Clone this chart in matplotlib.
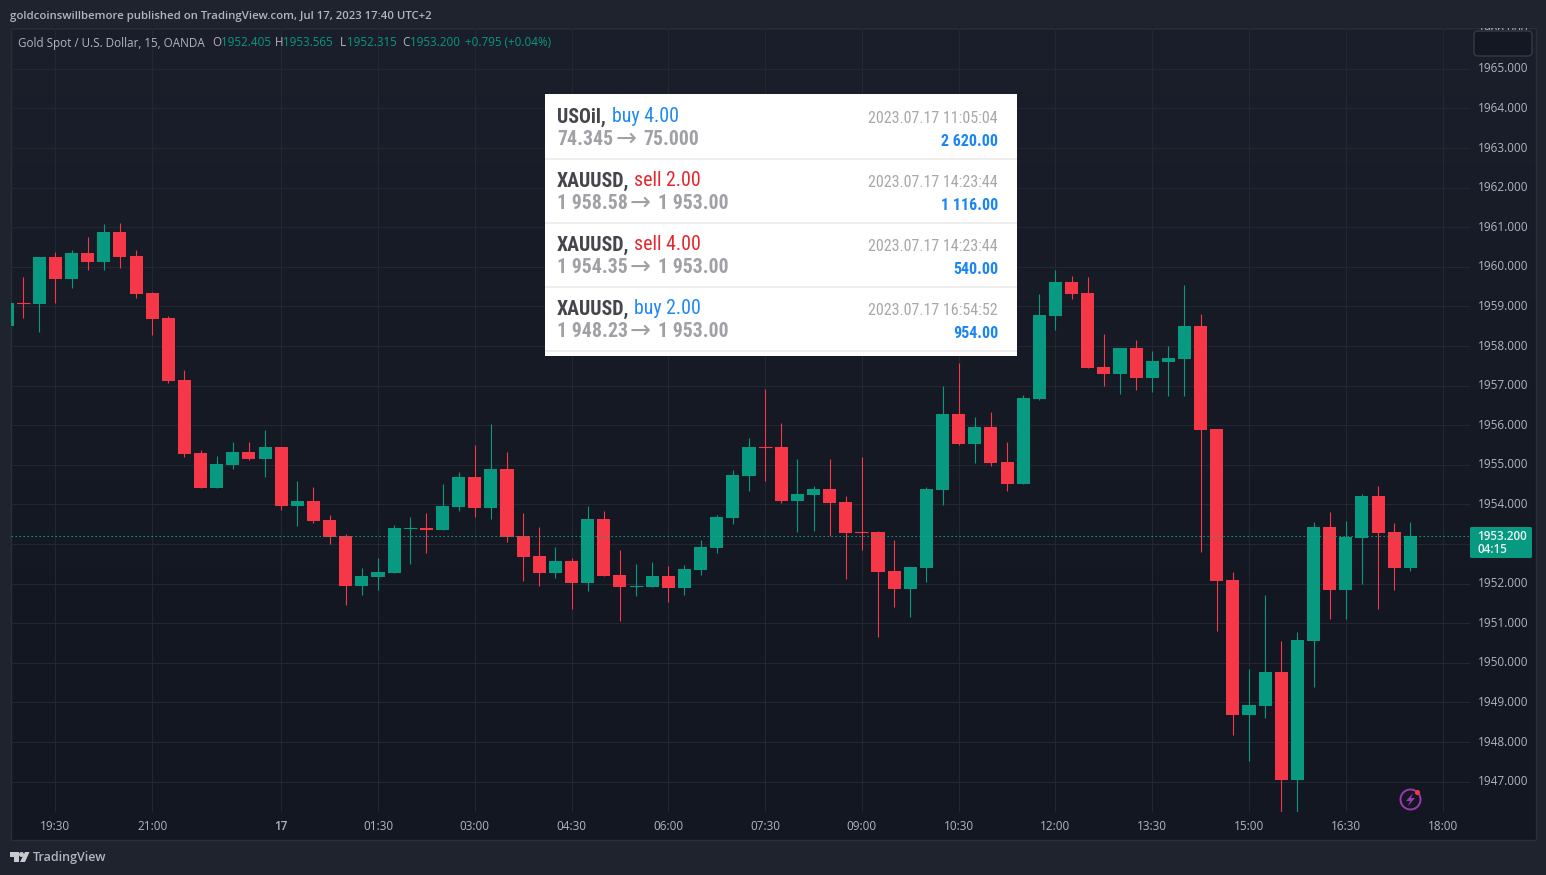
"""Gold spot 15 min candles (TradingView dark snapshot) with a trade result panel on top."""

import matplotlib

matplotlib.use("Agg")
import matplotlib.pyplot as plt
import numpy as np
from matplotlib.colors import LinearSegmentedColormap
from matplotlib.patches import Circle, FancyBboxPatch, Polygon, Rectangle
from matplotlib.transforms import Bbox

opens = [1958.51, 1959.09, 1959.06, 1960.25, 1959.70, 1960.35, 1960.12, 1960.88, 1960.28, 1959.34,
         1958.71, 1957.14, 1955.30, 1954.42, 1955.00, 1955.33, 1955.15, 1955.45, 1953.96, 1954.09,
         1953.61, 1953.21, 1951.94, 1952.17, 1952.27, 1953.39, 1953.41, 1953.36, 1953.94, 1954.69,
         1953.91, 1954.90, 1953.20, 1952.70, 1952.27, 1952.57, 1952.02, 1953.63, 1952.22, 1951.92,
         1951.92, 1952.19, 1951.89, 1952.35, 1952.90, 1953.66, 1954.72, 1955.45, 1955.45, 1954.09,
         1954.24, 1954.39, 1954.06, 1953.31, 1953.31, 1952.32, 1951.87, 1952.40, 1954.37, 1956.29,
         1955.53, 1955.96, 1955.07, 1954.52, 1956.66, 1958.76, 1959.62, 1959.34, 1957.47, 1957.30,
         1957.95, 1957.19, 1957.59, 1957.67, 1958.50, 1955.91, 1952.09, 1948.68, 1948.91, 1949.77,
         1947.04, 1950.55, 1953.43, 1951.84, 1953.16, 1954.21, 1953.30, 1952.405]
highs = [1959.30, 1959.75, 1960.25, 1960.38, 1960.43, 1960.76, 1961.08, 1961.11, 1960.43, 1959.37,
         1958.76, 1957.40, 1955.38, 1955.23, 1955.58, 1955.58, 1955.88, 1955.45, 1954.59, 1954.44,
         1953.74, 1953.26, 1952.40, 1952.65, 1953.48, 1953.69, 1953.79, 1954.52, 1954.82, 1955.50,
         1956.03, 1955.33, 1953.79, 1953.43, 1952.93, 1952.65, 1953.96, 1953.84, 1952.85, 1952.50,
         1952.55, 1952.45, 1952.47, 1953.10, 1953.74, 1954.87, 1955.68, 1956.92, 1956.06, 1955.15,
         1954.47, 1955.15, 1954.21, 1955.20, 1953.33, 1953.10, 1952.42, 1954.44, 1956.99, 1957.57,
         1956.21, 1956.34, 1955.58, 1956.77, 1959.32, 1959.92, 1959.77, 1959.75, 1958.31, 1957.95,
         1958.15, 1957.88, 1958.00, 1959.54, 1958.81, 1955.91, 1952.29, 1949.85, 1951.71, 1950.55,
         1950.78, 1953.55, 1953.81, 1953.58, 1954.26, 1954.46, 1953.54, 1953.565]
lows = [1958.30, 1958.71, 1958.36, 1959.09, 1959.47, 1959.92, 1959.92, 1959.97, 1959.22, 1958.28,
        1957.07, 1955.20, 1954.42, 1954.42, 1954.90, 1955.12, 1954.70, 1953.86, 1953.46, 1953.53,
        1953.00, 1951.46, 1951.72, 1951.84, 1952.27, 1952.50, 1952.78, 1953.36, 1953.84, 1953.68,
        1953.63, 1953.05, 1952.07, 1951.94, 1952.14, 1951.36, 1951.82, 1952.19, 1951.06, 1951.69,
        1951.92, 1951.54, 1951.72, 1952.22, 1952.78, 1953.51, 1954.34, 1954.59, 1954.04, 1953.31,
        1953.33, 1953.20, 1952.12, 1952.85, 1950.65, 1951.41, 1951.16, 1952.04, 1953.99, 1955.50,
        1955.05, 1954.97, 1954.34, 1954.52, 1956.64, 1958.41, 1959.19, 1957.45, 1956.99, 1956.79,
        1956.89, 1956.84, 1956.74, 1956.74, 1952.80, 1950.80, 1948.18, 1947.52, 1948.61, 1946.20,
        1946.20, 1949.39, 1951.11, 1951.11, 1951.99, 1951.36, 1951.84, 1952.315]
closes = [1959.09, 1959.07, 1960.25, 1959.70, 1960.35, 1960.12, 1960.88, 1960.25, 1959.32, 1958.69,
          1957.12, 1955.28, 1954.42, 1955.02, 1955.33, 1955.15, 1955.45, 1953.96, 1954.09, 1953.58,
          1953.18, 1951.94, 1952.20, 1952.30, 1953.41, 1953.41, 1953.36, 1953.96, 1954.69, 1953.91,
          1954.90, 1953.18, 1952.67, 1952.27, 1952.57, 1952.02, 1953.63, 1952.19, 1951.92, 1951.94,
          1952.19, 1951.89, 1952.37, 1952.93, 1953.68, 1954.74, 1955.45, 1955.43, 1954.09, 1954.27,
          1954.39, 1954.04, 1953.28, 1953.29, 1952.30, 1951.87, 1952.42, 1954.39, 1956.29, 1955.53,
          1955.96, 1955.05, 1954.52, 1956.69, 1958.79, 1959.62, 1959.32, 1957.45, 1957.30, 1957.95,
          1957.19, 1957.62, 1957.70, 1958.50, 1955.88, 1952.07, 1948.68, 1948.94, 1949.77, 1947.04,
          1950.58, 1953.43, 1951.84, 1953.18, 1954.21, 1953.28, 1952.40, 1953.20]

last_price = 1953.2
price_ticks = list(range(1947, 1967))
time_ticks = [3, 9, 17, 23, 29, 35, 41, 47, 53, 59, 65, 71, 77, 83, 89]
time_labels = ["19:30", "21:00", "17", "01:30", "03:00", "04:30", "06:00", "07:30",
               "09:00", "10:30", "12:00", "13:30", "15:00", "16:30", "18:00"]

trade_symbols = ["USOil,", "XAUUSD,", "XAUUSD,", "XAUUSD,"]
trade_actions = ["buy 4.00", "sell 2.00", "sell 4.00", "buy 2.00"]
trade_entries = ["74.345", "1 958.58", "1 954.35", "1 948.23"]
trade_exits = ["75.000", "1 953.00", "1 953.00", "1 953.00"]
trade_times = ["2023.07.17 11:05:04", "2023.07.17 14:23:44", "2023.07.17 14:23:44", "2023.07.17 16:54:52"]
trade_profits = ["2 620.00", "1 116.00", "540.00", "954.00"]

UP = "#089981"
DOWN = "#f53748"
GRID = "#232732"
TEXT = "#b2b5be"
PANEL_FONT = ["Roboto Condensed", "Roboto", "DejaVu Sans"]
UI = ["Open Sans", "DejaVu Sans"]
W, H = 1546, 875
AX_L, AX_R, AX_T, AX_B = 10.5, 1470, 28, 812


def main():
    fig = plt.figure(figsize=(W / 100, H / 100), dpi=100, facecolor="#1f232e")

    bg = fig.add_axes([0, 0, 1, 1], zorder=0)
    shade = LinearSegmentedColormap.from_list("shade", ["#1b1f2b", "#171b26", "#141823", "#131722"])
    bg.imshow(np.linspace(0, 1, 256)[:, None], extent=(10.5, 1536, 840, 27), cmap=shade, aspect="auto")
    bg.add_patch(Rectangle((10.5, 27.5), 1525.5, 812.5, fill=False, ec="#2a2e39", lw=1))
    bg.set_xlim(0, W)
    bg.set_ylim(H, 0)
    bg.axis("off")

    ax = fig.add_axes([AX_L / W, 1 - AX_B / H, (AX_R - AX_L) / W, (AX_B - AX_T) / H], zorder=1)
    ax.patch.set_visible(False)
    ax.set_xlim((AX_L - 7) / 16.13, (AX_R - 7) / 16.13)
    ax.set_ylim(1961 - (AX_B - 227.3) / 39.6, 1961 + (227.3 - AX_T) / 39.6)
    for spine in ax.spines.values():
        spine.set_visible(False)

    ax.yaxis.tick_right()
    # 1953 sits behind the last price tag, so it gets no label
    ax.set_yticks(price_ticks, ["" if p == 1953 else f"{p}.000" for p in price_ticks])
    ax.set_xticks(time_ticks, time_labels)
    ax.grid(True, color=GRID, lw=0.75, zorder=0)
    ax.set_axisbelow(True)
    ax.tick_params(axis="both", length=0, labelcolor=TEXT, labelsize=8.5)
    ax.tick_params(axis="y", pad=5.8)
    ax.tick_params(axis="x", pad=6)
    for label in ax.get_xticklabels() + ax.get_yticklabels():
        label.set_family(UI)
    for label in ax.get_yticklabels():
        label.set_verticalalignment("center")
    ax.get_xticklabels()[2].set_fontweight("semibold")
    # the top price label is cut by the chart frame
    ax.get_yticklabels()[-1].set_clip_box(Bbox([[1470, H - 30], [1536, H - 28]]))
    ax.get_yticklabels()[-1].set_clip_on(True)

    idx = np.arange(len(opens))
    o, h, l, c = map(np.array, (opens, highs, lows, closes))
    colors = np.where(c >= o, UP, DOWN)
    ax.vlines(idx, l, h, colors=colors, lw=0.8, zorder=2)
    top, bot = np.maximum(o, c), np.minimum(o, c)
    ax.bar(idx, top - bot, bottom=bot, width=0.81, color=colors, linewidth=0, zorder=3)
    doji = top - bot < 0.03
    ax.hlines((o[doji] + c[doji]) / 2, idx[doji] - 0.405, idx[doji] + 0.405, colors=colors[doji], lw=0.8, zorder=3)
    ax.axhline(last_price, color="#12a98f", lw=0.8, ls=(0, (1.2, 2.4)), zorder=4)

    top_ax = fig.add_axes([0, 0, 1, 1], zorder=2)
    top_ax.patch.set_visible(False)
    top_ax.set_xlim(0, W)
    top_ax.set_ylim(H, 0)
    top_ax.axis("off")

    # header, legend and footer
    top_ax.text(10, 16.5, "goldcoinswillbemore published on TradingView.com, Jul 17, 2023 17:40 UTC+2",
                color=TEXT, fontsize=8.2, family=UI, va="center", fontweight="semibold")
    top_ax.text(18, 43, "Gold Spot / U.S. Dollar, 15, OANDA", color=TEXT, fontsize=8.4, family=UI, va="center")
    for x, letter in zip([212.5, 275, 340, 402], "OHLC"):
        top_ax.text(x, 43, letter, color=TEXT, fontsize=8.4, family=UI, va="center")
    for x, value in zip([221, 283, 347, 410, 465],
                        ["1952.405", "1953.565", "1952.315", "1953.200", "+0.795 (+0.04%)"]):
        top_ax.text(x, 43, value, color=UP, fontsize=8.4, family=UI, va="center")
    top_ax.text(33, 857.5, "TradingView", color=TEXT, fontsize=9, family=UI, va="center", fontweight="semibold")
    logo = "#c8cad0"
    top_ax.add_patch(Polygon([(10, 852), (19, 852), (19, 862), (14, 862), (14, 857), (10, 857)], fc=logo, lw=0))
    top_ax.add_patch(Circle((21.5, 854.5), 2.5, fc=logo, lw=0))
    top_ax.add_patch(Polygon([(25, 852), (29.5, 852), (25, 862), (20, 862)], fc=logo, lw=0))

    # scale button over the top of the price axis
    top_ax.add_patch(FancyBboxPatch((1476, 33), 54, 21, boxstyle="round,pad=2,rounding_size=4",
                                    fc="#141823", ec="#363a45", lw=1))

    # last price tag
    top_ax.add_patch(FancyBboxPatch((1470, 527), 62, 31, boxstyle="round,pad=0,rounding_size=1.5", fc=UP, lw=0))
    top_ax.text(1477.5, 543, "1953.200\n04:15", color="#eaf4f2", fontsize=8.4, family=UI, va="center",
                fontweight="semibold", linespacing=1.05)

    # alerts icon
    top_ax.add_patch(Circle((1410.5, 799.5), 10, fill=False, ec="#9c39b0", lw=1.4))
    top_ax.add_patch(Polygon([(1413, 793), (1406, 801), (1410, 801), (1408, 806), (1415, 798), (1411, 798)],
                             fc="#9c39b0", lw=0))
    top_ax.add_patch(Circle((1417.5, 792.5), 2.6, fc="#f23645", lw=0))

    # trade result panel
    top_ax.add_patch(Rectangle((545, 94), 472, 262, fc="white", lw=0, zorder=5))
    for i in range(4):
        dy = 64 * i
        action_x = 612 if i == 0 else 634.5
        arrow_x = 616 if i == 0 else 630
        exit_x = 643 if i == 0 else 658
        action_color = "#1e88f5" if "buy" in trade_actions[i] else "#e8252d"
        top_ax.text(557, 122.5 + dy, trade_symbols[i], color="#44464c", fontsize=14.3, family=PANEL_FONT,
                    fontweight="bold", zorder=6)
        top_ax.text(action_x, 122.5 + dy, trade_actions[i], color=action_color, fontsize=14.3,
                    family=PANEL_FONT, zorder=6)
        top_ax.text(557, 145 + dy, trade_entries[i], color="#a0a1a5", fontsize=14.3, family=PANEL_FONT,
                    fontweight="bold", zorder=6)
        top_ax.text(arrow_x, 146 + dy, "→", color="#a0a1a5", fontsize=18, family="DejaVu Sans", zorder=6)
        top_ax.text(exit_x, 145 + dy, trade_exits[i], color="#a0a1a5", fontsize=14.3, family=PANEL_FONT,
                    fontweight="bold", zorder=6)
        top_ax.text(998, 123 + dy, trade_times[i], color="#a8a8a8", fontsize=11.5, family=PANEL_FONT,
                    ha="right", zorder=6)
        top_ax.text(998, 145.5 + dy, trade_profits[i], color="#1a86f5", fontsize=11.5, family=PANEL_FONT,
                    fontweight="bold", ha="right", zorder=6)
        top_ax.plot([545, 1017], [158.5 + dy, 158.5 + dy], color="#e9e9e9", lw=1.1, zorder=6,
                    solid_capstyle="butt")

    fig.savefig("out.png", dpi=100, facecolor=fig.get_facecolor())


if __name__ == "__main__":
    main()
